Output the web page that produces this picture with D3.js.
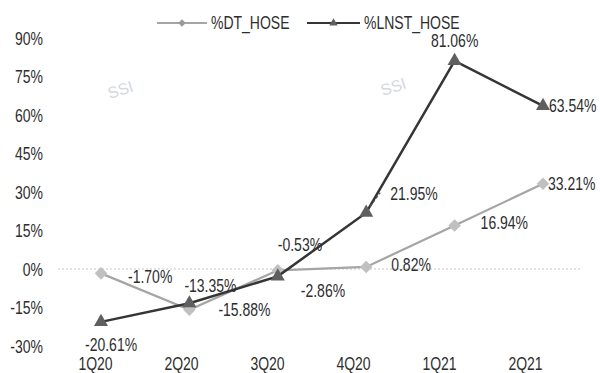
<!DOCTYPE html>
<html>
<head>
<meta charset="utf-8">
<script src="https://cdn.jsdelivr.net/npm/d3@7"></script>
<style>
  html, body { margin: 0; padding: 0; background: #fff; }
  svg { display: block; }
  text { font-family: "Liberation Sans", Arial, sans-serif; fill: #2e2e2e; }
</style>
</head>
<body>
<svg id="chart" width="600" height="373"></svg>
<script>
// Quarterly growth, %
const quarters = ["1Q20", "2Q20", "3Q20", "4Q20", "1Q21", "2Q21"];
const dtHose   = [-1.70, -15.88, -0.53, 0.82, 16.94, 33.21];
const lnstHose = [-20.61, -13.35, -2.86, 21.95, 81.06, 63.54];
const yTicks   = [-30, -15, 0, 15, 30, 45, 60, 75, 90];
const seriesNames = ["%DT_HOSE", "%LNST_HOSE"];

// label placement per point: [dx, dy] from the marker centre, text-anchor
const dtLabelPos   = [[27, 3, "start"], [29, 0, "start"], [0, -26, "start"], [25, -2, "start"], [26, -3, "start"], [5, 0, "start"]];
const lnstLabelPos = [[-16, 23, "start"], [-5, -18, "start"], [23, 14, "start"], [24, -19, "start"], [0, -20, "middle"], [6, 0, "start"]];

const svg = d3.select("#chart");
const fontSize = 14;
const stretchY = 1.3;   // tall, narrow lettering

// move x/y into a transform so the glyphs can be stretched vertically
function stretch(sel) {
  sel.each(function () {
    const t = d3.select(this);
    const tx = +t.attr("x") || 0, ty = +t.attr("y") || 0;
    t.attr("x", null).attr("y", null)
      .attr("transform", `translate(${tx},${ty}) scale(1,${stretchY})`);
  });
}

const x = d3.scalePoint().domain(quarters).range([101, 543]);
const xLabel = d3.scalePoint().domain(quarters).range([95, 525]);
const y = d3.scaleLinear().domain([-30, 90]).range([346, 38]);

// faint watermarks
svg.append("g").selectAll("text")
  .data([[122, 95], [395, 92]])
  .join("text")
  .attr("transform", d => `translate(${d[0]},${d[1]}) rotate(-18)`)
  .attr("text-anchor", "middle")
  .style("font-size", "16px")
  .style("fill", "#d4d8de")
  .text("SSI");

// zero line
svg.append("line")
  .attr("x1", 58).attr("x2", 580)
  .attr("y1", y(0)).attr("y2", y(0))
  .attr("stroke", "#d9d9d9")
  .attr("stroke-width", 1.5)
  .attr("stroke-dasharray", "2,2");

// y axis labels
const yAxis = d3.axisLeft(y).tickValues(yTicks).tickFormat(d => d + "%").tickSize(0).tickPadding(0);
const gy = svg.append("g").attr("transform", "translate(43,0)").call(yAxis);
gy.select(".domain").remove();
gy.selectAll("text").style("font-size", fontSize + "px").style("font-family", null)
  .attr("dy", "0.35em").call(stretch);

// x axis labels
const xAxis = d3.axisBottom(xLabel).tickSize(0).tickPadding(0);
const gx = svg.append("g").attr("transform", "translate(0,357)").call(xAxis);
gx.select(".domain").remove();
gx.selectAll("text").style("font-size", fontSize + "px").style("font-family", null)
  .attr("dy", "0.71em").call(stretch);

const line = d3.line().x((d, i) => x(quarters[i])).y(d => y(d));

const diamond = d3.symbol().type(d3.symbolDiamond2).size(100);
const triangle = d3.symbol().type(d3.symbolTriangle).size(85);

// DT_HOSE series
svg.append("path").datum(dtHose)
  .attr("d", line).attr("fill", "none")
  .attr("stroke", "#a5a5a5").attr("stroke-width", 2.2);
svg.append("g").selectAll("path").data(dtHose).join("path")
  .attr("transform", (d, i) => `translate(${x(quarters[i])},${y(d)})`)
  .attr("d", diamond).attr("fill", "#c0c0c0");

// LNST_HOSE series
svg.append("path").datum(lnstHose)
  .attr("d", line).attr("fill", "none")
  .attr("stroke", "#353535").attr("stroke-width", 2.5);
svg.append("g").selectAll("path").data(lnstHose).join("path")
  .attr("transform", (d, i) => `translate(${x(quarters[i])},${y(d)})`)
  .attr("d", triangle).attr("fill", "#5f5f5f");

// leader line for the 4Q20 LNST label
svg.append("line")
  .attr("x1", x("4Q20") + 4).attr("y1", y(lnstHose[3]) - 6)
  .attr("x2", x("4Q20") + 14).attr("y2", y(lnstHose[3]) - 20)
  .attr("stroke", "#555").attr("stroke-width", 1.2).attr("stroke-dasharray", "3,2");

// value labels
function drawLabels(values, pos) {
  svg.append("g").selectAll("text").data(values).join("text")
    .attr("x", (d, i) => x(quarters[i]) + pos[i][0])
    .attr("y", (d, i) => y(d) + pos[i][1])
    .attr("dy", "0.35em")
    .attr("text-anchor", (d, i) => pos[i][2])
    .style("font-size", fontSize + "px")
    .text(d => d.toFixed(2) + "%")
    .call(stretch);
}
drawLabels(dtHose, dtLabelPos);
drawLabels(lnstHose, lnstLabelPos);

// legend
const legendItems = [
  { name: seriesNames[0], x0: 157, x1: 207, color: "#a5a5a5", fill: "#9a9a9a", sym: diamond },
  { name: seriesNames[1], x0: 307, x1: 360, color: "#353535", fill: "#5f5f5f", sym: triangle }
];
const lg = svg.append("g").selectAll("g").data(legendItems).join("g");
lg.append("line")
  .attr("x1", d => d.x0).attr("x2", d => d.x1)
  .attr("y1", 23).attr("y2", 23)
  .attr("stroke", d => d.color).attr("stroke-width", 2);
lg.append("path")
  .attr("transform", d => `translate(${(d.x0 + d.x1) / 2},23) scale(0.6)`)
  .attr("d", d => d.sym()).attr("fill", d => d.fill);
lg.append("text")
  .attr("x", d => d.x1 + 4).attr("y", 23).attr("dy", "0.35em")
  .style("font-size", fontSize + "px")
  .text(d => d.name)
  .call(stretch);
</script>
</body>
</html>
